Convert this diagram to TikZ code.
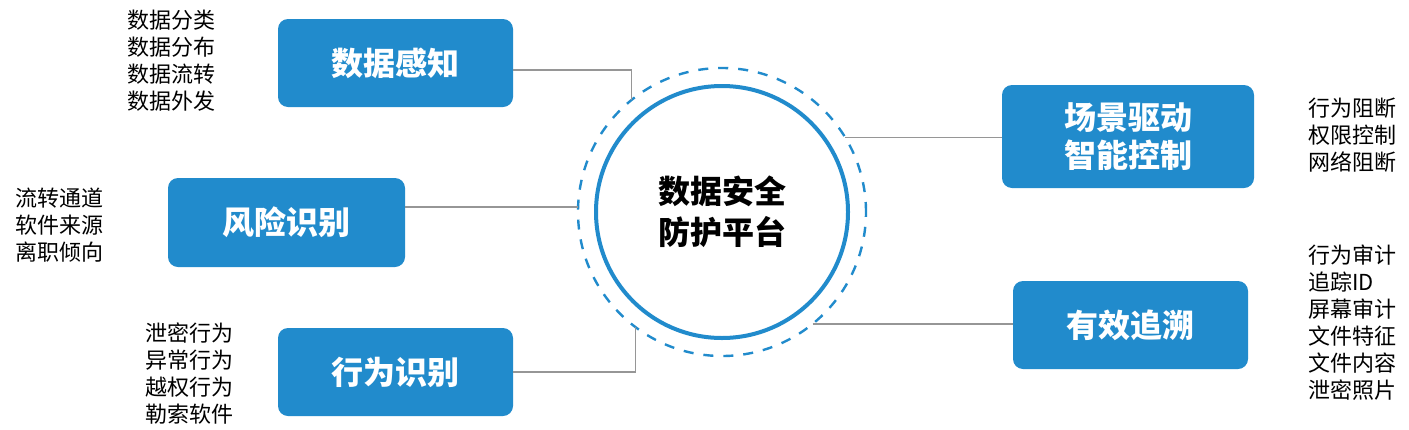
\documentclass[tikz,border=0pt]{standalone}
\usepackage{fontspec}
\setmainfont{Noto Sans CJK SC}
\definecolor{boxblue}{RGB}{33,139,204}
\definecolor{linegray}{RGB}{150,150,150}
\begin{document}
\begin{tikzpicture}[x=1pt,y=-1pt,
  bluebox/.style={rectangle,rounded corners=10pt,fill=boxblue,text=white,
    font=\fontsize{32}{38}\selectfont\bfseries,align=center,inner sep=0pt,outer sep=0pt},
  itemlist/.style={anchor=west,align=left,inner sep=0pt,text=black,
    font=\fontsize{22}{27}\selectfont},
  conn/.style={draw=linegray,line width=1.2pt}]
\useasboundingbox (0,0) rectangle (1409,429);
\fill[white] (0,0) rectangle (1409,429);
% centre
\node[circle,draw=boxblue,line width=2.4pt,dash pattern=on 10pt off 10pt,
  minimum size=288pt,inner sep=0pt,outer sep=0pt] (ring) at (722,212) {};
\node[circle,draw=boxblue,line width=4pt,minimum size=252pt,inner sep=0pt,outer sep=0pt,
  align=center,font=\fontsize{32}{41}\selectfont\bfseries] (core) at (722,212) {数据安全\\防护平台};
% boxes
\node[bluebox,minimum width=235pt,minimum height=88pt] (sense) at (395.5,63) {数据感知};
\node[bluebox,minimum width=237pt,minimum height=89pt] (risk) at (286.5,222.5) {风险识别};
\node[bluebox,minimum width=235pt,minimum height=88pt] (behav) at (395.5,372) {行为识别};
\node[bluebox,minimum width=252pt,minimum height=103pt] (scene) at (1128,136.5) {场景驱动\\智能控制};
\node[bluebox,minimum width=235pt,minimum height=88pt] (trace) at (1130.5,325) {有效追溯};
% lists
\node[itemlist] (l1) at (127,60.5) {数据分类\\数据分布\\数据流转\\数据外发};
\node[itemlist] (l2) at (15,225) {流转通道\\软件来源\\离职倾向};
\node[itemlist] (l3) at (145,373.5) {泄密行为\\异常行为\\越权行为\\勒索软件};
\node[itemlist] (l4) at (1308,135.5) {行为阻断\\权限控制\\网络阻断};
\node[itemlist] (l5) at (1308,322.5) {行为审计\\追踪ID\\屏幕审计\\文件特征\\文件内容\\泄密照片};
% connectors
\draw[conn] (ring.129) |- ([yshift=-7pt]sense.east);
\draw[conn] (ring.178.4) -- (ring.178.4 -| risk.east);
\draw[conn] (ring.233) |- (behav.east);
\draw[conn] (ring.31) -- (ring.31 -| scene.west);
\draw[conn] (ring.-51.5) -- (ring.-51.5 -| trace.west);
\end{tikzpicture}
\end{document}
